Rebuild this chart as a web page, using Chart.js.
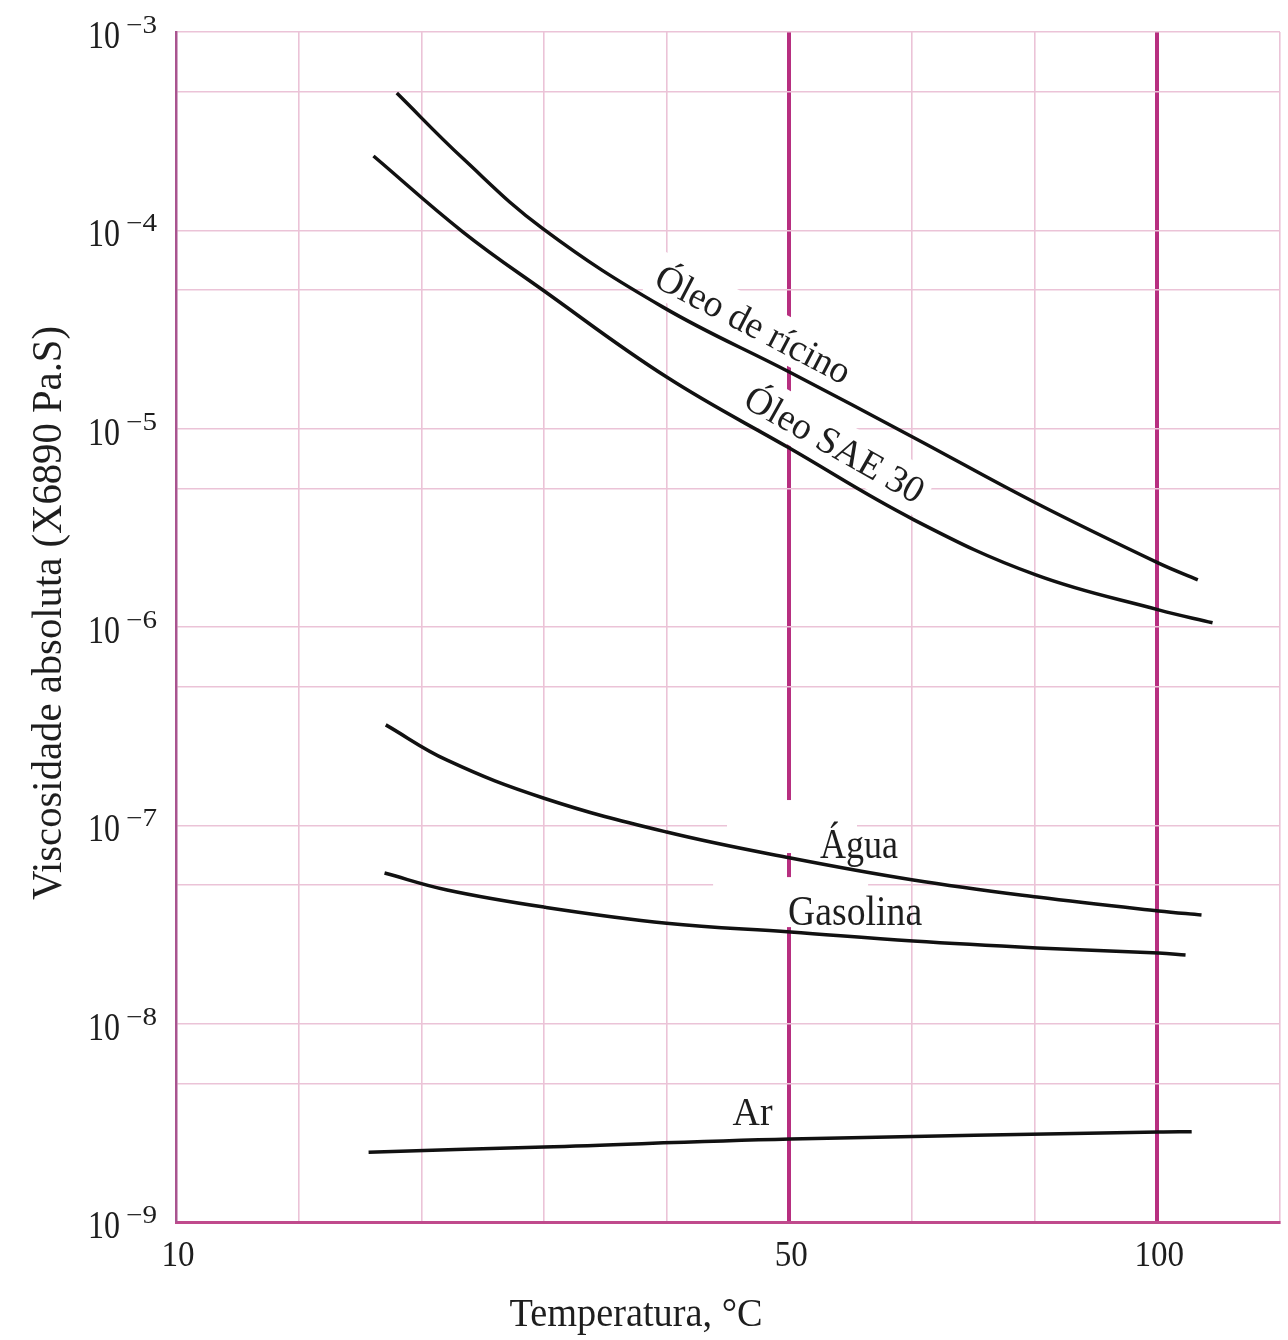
<!DOCTYPE html>
<html>
<head>
<meta charset="utf-8">
<script src="https://cdn.jsdelivr.net/npm/chart.js@4.4.1/dist/chart.umd.min.js"></script>
<style>
  html, body { margin: 0; padding: 0; background: #ffffff; }
  #wrap { width: 1288px; height: 1340px; }
</style>
</head>
<body>
<div id="wrap"><canvas id="c" width="1288" height="1340"></canvas></div>
<script>
// ---------- data (x in grid divisions of the temperature axis) ----------
const xTickPos    = [0, 5, 8];
const xTickLabels = ['10', '50', '100'];
const xGridMax    = 9;
const thickGridPos = [5, 8];

const yTickExps   = [-3, -4, -5, -6, -7, -8, -9];
const yGridValues = [1e-9, 5e-9, 1e-8, 5e-8, 1e-7, 5e-7, 1e-6, 5e-6, 1e-5, 5e-5, 1e-4, 5e-4, 1e-3];

const ricinoX = [1.80, 2.34, 2.99, 3.97, 5.00, 6.02, 7.01, 8.01, 8.33];
const ricinoY = [4.92e-4, 2.30e-4, 1.02e-4, 4.10e-5, 1.93e-5, 8.98e-6, 4.22e-6, 2.10e-6, 1.73e-6];

const sae30X = [1.61, 2.34, 2.99, 4.00, 5.00, 6.02, 7.01, 8.01, 8.45];
const sae30Y = [2.37e-4, 9.80e-5, 5.00e-5, 1.82e-5, 7.98e-6, 3.46e-6, 1.83e-6, 1.22e-6, 1.05e-6];

const aguaX = [1.71, 2.21, 3.00, 4.00, 5.01, 6.01, 7.02, 8.01, 8.36];
const aguaY = [3.21e-7, 2.13e-7, 1.37e-7, 9.25e-8, 6.84e-8, 5.30e-8, 4.35e-8, 3.70e-8, 3.53e-8];

const gasolinaX = [1.70, 2.21, 3.00, 4.00, 5.01, 6.01, 7.02, 8.01, 8.23];
const gasolinaY = [5.75e-8, 4.72e-8, 3.87e-8, 3.21e-8, 2.90e-8, 2.61e-8, 2.41e-8, 2.27e-8, 2.22e-8];

const arX = [1.57, 3.00, 5.01, 8.01, 8.28];
const arY = [2.25e-9, 2.39e-9, 2.62e-9, 2.84e-9, 2.85e-9];

const seriesNames = ['Óleo de rícino', 'Óleo SAE 30', 'Água', 'Gasolina', 'Ar'];

const yTitle = 'Viscosidade absoluta (X6890 Pa.S)';
const xTitle = 'Temperatura, °C';

// ---------- styles ----------
const FONT = '"Liberation Serif", "Times New Roman", serif';
const TEXT = '#1e1e1e';
const GRID_LIGHT = '#ebc3d7';
const GRID_THICK = '#b72f80';

// curve labels anchored in data coordinates
const curveLabels = [
  { text: seriesNames[0], x: 4.66, y: 2.96e-5, angle: 27.5, size: 38, width: 215, align: 'center', box: [-114, -36, 114, 9] },
  { text: seriesNames[1], x: 5.32, y: 7.36e-6, angle: 29.5, size: 38, width: 200, align: 'center', box: [-106, -37, 106, 11] },
  { text: seriesNames[2], x: 5.25, y: 6.84e-8, angle: 0, size: 42, width: 78, align: 'left', box: [-93, -58, 37, -5] },
  { text: seriesNames[3], x: 4.99, y: 3.14e-8, angle: 0, size: 42, width: 134, align: 'left', box: [-75, -48, 80, 2] },
  { text: seriesNames[4], x: 4.70, y: 3.08e-9, angle: 0, size: 40, width: 40, align: 'center', box: null }
];

function drawText(ctx, text, x, y, size, opts) {
  ctx.save();
  ctx.font = size + 'px ' + FONT;
  const w = ctx.measureText(text).width;
  const sx = opts.width ? opts.width / w : (opts.sx || 1);
  ctx.translate(x, y);
  if (opts.angle) ctx.rotate(opts.angle * Math.PI / 180);
  ctx.scale(sx, 1);
  ctx.textAlign = opts.align || 'center';
  ctx.textBaseline = 'alphabetic';
  ctx.fillStyle = TEXT;
  ctx.fillText(text, 0, 0);
  ctx.restore();
}

const labelPlugin = {
  id: 'labelPlugin',
  beforeDatasetsDraw(chart) {
    const ctx = chart.ctx;
    const xs = chart.scales.x, ys = chart.scales.y;
    ctx.save();
    ctx.fillStyle = '#ffffff';
    curveLabels.forEach(l => {
      if (!l.box) return;
      const px = xs.getPixelForValue(l.x), py = ys.getPixelForValue(l.y);
      ctx.save();
      ctx.translate(px, py);
      if (l.angle) ctx.rotate(l.angle * Math.PI / 180);
      ctx.fillRect(l.box[0], l.box[1], l.box[2] - l.box[0], l.box[3] - l.box[1]);
      ctx.restore();
    });
    ctx.restore();
  },
  afterDatasetsDraw(chart) {
    const ctx = chart.ctx;
    const xs = chart.scales.x, ys = chart.scales.y;
    // y tick labels 10^n
    yTickExps.forEach(e => {
      const py = ys.getPixelForValue(Math.pow(10, e));
      drawText(ctx, '10', 120, py + 16, 41, { width: 32, align: 'right' });
      drawText(ctx, '\u2212' + Math.abs(e), 126, py + 1, 25, { width: 31, align: 'left' });
    });
    // x tick labels
    xTickPos.forEach((p, i) => {
      const px = xs.getPixelForValue(p);
      drawText(ctx, xTickLabels[i], px + 2, 1266, 36, { sx: 0.92, align: 'center' });
    });
    // axis titles
    drawText(ctx, xTitle, 636, 1326, 40, { width: 253, align: 'center' });
    drawText(ctx, yTitle, 61, 613, 42, { width: 574, align: 'center', angle: -90 });
    // curve labels
    curveLabels.forEach(l => {
      const px = xs.getPixelForValue(l.x), py = ys.getPixelForValue(l.y);
      drawText(ctx, l.text, px, py, l.size, { width: l.width, align: l.align, angle: l.angle });
    });
  }
};

function pts(xa, ya) { return xa.map((v, i) => ({ x: v, y: ya[i] })); }

const lineStyle = {
  borderColor: '#111111',
  borderWidth: 3.5,
  pointRadius: 0,
  fill: false,
  tension: 0.4
};

new Chart(document.getElementById('c'), {
  type: 'line',
  data: {
    datasets: [
      Object.assign({ label: seriesNames[0], data: pts(ricinoX, ricinoY) }, lineStyle),
      Object.assign({ label: seriesNames[1], data: pts(sae30X, sae30Y) }, lineStyle),
      Object.assign({ label: seriesNames[2], data: pts(aguaX, aguaY) }, lineStyle),
      Object.assign({ label: seriesNames[3], data: pts(gasolinaX, gasolinaY) }, lineStyle),
      Object.assign({ label: seriesNames[4], data: pts(arX, arY) }, lineStyle)
    ]
  },
  options: {
    responsive: false,
    animation: false,
    devicePixelRatio: 1,
    layout: { padding: { left: 176, top: 32, right: 8, bottom: 118 } },
    plugins: { legend: { display: false }, tooltip: { enabled: false } },
    scales: {
      x: {
        type: 'linear',
        min: 0,
        max: xGridMax,
        ticks: { display: false, stepSize: 1 },
        grid: {
          drawTicks: false,
          color: c => thickGridPos.includes(c.tick && c.tick.value) ? GRID_THICK : GRID_LIGHT,
          lineWidth: c => thickGridPos.includes(c.tick && c.tick.value) ? 4 : 1.6
        },
        border: { display: true, color: '#c04a8c', width: 3 }
      },
      y: {
        type: 'logarithmic',
        min: 1e-9,
        max: 1e-3,
        afterBuildTicks: s => { s.ticks = yGridValues.map(v => ({ value: v })); },
        ticks: { display: false },
        grid: { drawTicks: false, color: GRID_LIGHT, lineWidth: 1.6 },
        border: { display: true, color: '#a9548f', width: 2.5 }
      }
    }
  },
  plugins: [labelPlugin]
});
</script>
</body>
</html>
